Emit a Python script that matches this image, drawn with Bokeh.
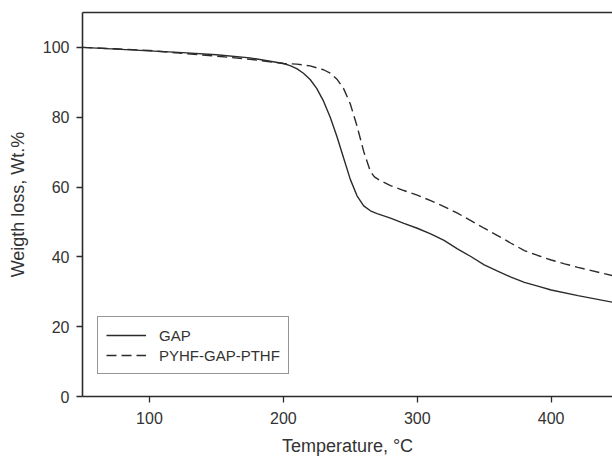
from bokeh.plotting import figure
from bokeh.models import Range1d, FixedTicker, LinearAxis, Legend, LegendItem
from bokeh.embed import file_html
from bokeh.resources import INLINE

# ---- data ----
gap_temp = [50, 75, 100, 125, 150, 175, 200, 205, 210, 215, 220, 225, 230, 235, 240, 245, 250, 255, 260, 265, 270,
            280, 290, 300, 310, 320, 330, 340, 350, 360, 370, 380, 390, 400, 420, 446]
gap_wt = [100.0, 99.5, 99.0, 98.5, 97.9, 97.0, 95.4, 94.8, 93.9, 92.6, 90.8, 88.2, 84.6, 80.0, 74.5, 68.3, 62.2, 57.5, 54.6, 53.2, 52.4,
          51.1, 49.6, 48.2, 46.6, 44.7, 42.3, 40.1, 37.7, 35.9, 34.2, 32.7, 31.6, 30.5, 28.9, 27.0]

pyhf_temp = [50, 75, 100, 125, 150, 175, 200, 210, 220, 230, 235, 240, 245, 250, 255, 260, 265, 268, 272,
             280, 290, 300, 310, 320, 330, 340, 350, 360, 370, 380, 390, 400, 410, 420, 446]
pyhf_wt = [100.0, 99.6, 99.1, 98.3, 97.5, 96.6, 95.4, 95.2, 94.7, 93.6, 92.6, 90.9, 88.2, 83.8, 77.5, 70.2, 64.5, 62.9, 61.9,
           60.4, 59.0, 57.7, 56.1, 54.4, 52.5, 50.4, 48.2, 46.1, 43.9, 41.8, 40.4, 39.1, 38.0, 37.0, 34.6]

series_names = ["GAP", "PYHF-GAP-PTHF"]
x_ticks = [100, 200, 300, 400]
y_ticks = [0, 20, 40, 60, 80, 100]

FONT = "Liberation Sans"
INK = "#2b2b2b"

p = figure(width=612, height=460, output_backend="svg", toolbar_location=None,
           x_range=Range1d(50, 445.8), y_range=Range1d(0, 110),
           min_border_left=82, min_border_right=0, min_border_top=12, min_border_bottom=64)
p.outline_line_color = None
p.xgrid.visible = False
p.ygrid.visible = False
p.background_fill_color = "white"
p.border_fill_color = "white"

r1 = p.line(gap_temp, gap_wt, line_color=INK, line_width=1.4)
r2 = p.line(pyhf_temp, pyhf_wt, line_color=INK, line_width=1.4, line_dash="10 5")

for ax, ticks in ((p.xaxis[0], x_ticks), (p.yaxis[0], y_ticks)):
    ax.ticker = FixedTicker(ticks=ticks)
    ax.minor_tick_line_color = None
    ax.major_tick_in = 0
    ax.major_tick_out = 6
    ax.major_tick_line_color = INK
    ax.major_tick_line_width = 1.3
    ax.axis_line_color = INK
    ax.axis_line_width = 1.6
    ax.major_label_text_font = FONT
    ax.major_label_text_font_size = "16px"
    ax.major_label_text_color = "#333333"
    ax.axis_label_text_font = FONT
    ax.axis_label_text_font_style = "normal"
    ax.axis_label_text_color = "#333333"
    ax.axis_label_text_font_size = "18px"

p.xaxis[0].axis_label = "Temperature, °C"
p.xaxis[0].major_label_standoff = 9
p.xaxis[0].axis_label_standoff = 9
p.yaxis[0].axis_label = "Weigth loss, Wt.%"
p.yaxis[0].major_label_standoff = 7
p.yaxis[0].axis_label_standoff = 12

top = LinearAxis(ticker=FixedTicker(ticks=[]), major_tick_out=0, major_tick_in=0,
                 minor_tick_out=0, minor_tick_in=0, major_label_standoff=0,
                 axis_line_color=INK, axis_line_width=1.6,
                 major_label_text_font_size="0px")
p.add_layout(top, "above")

legend = Legend(items=[LegendItem(label=series_names[0], renderers=[r1]),
                       LegendItem(label=series_names[1], renderers=[r2])],
                location=(15, 22), orientation="vertical")
legend.label_text_font = FONT
legend.label_text_font_size = "15px"
legend.label_text_color = "#333333"
legend.glyph_width = 40
legend.glyph_height = 20
legend.label_height = 20
legend.label_standoff = 13
legend.spacing = 0
legend.padding = 8
legend.margin = 0
legend.border_line_color = INK
legend.border_line_width = 1.5
legend.background_fill_alpha = 1.0
p.add_layout(legend, "center")

open("out.html", "w").write(file_html(p, INLINE))
